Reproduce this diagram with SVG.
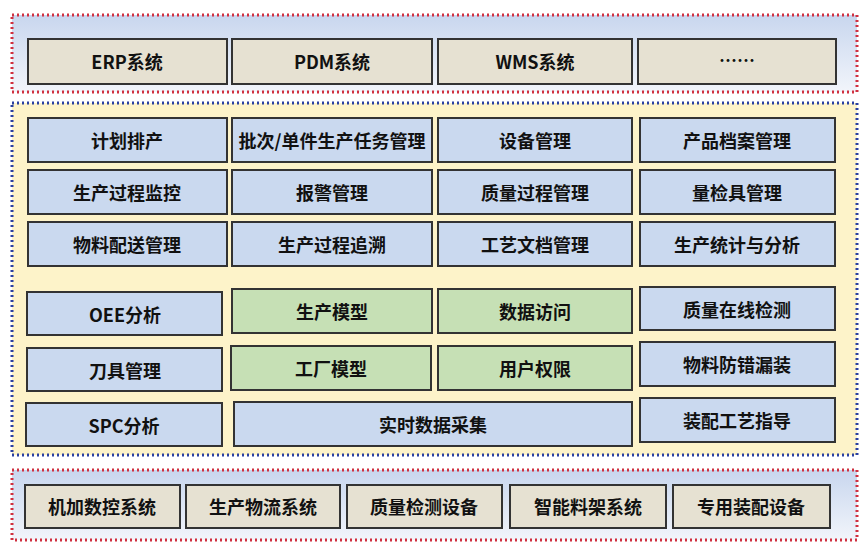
<svg xmlns="http://www.w3.org/2000/svg" width="868" height="551" viewBox="0 0 868 551">
<defs>
<linearGradient id="gt" x1="0" y1="0" x2="0" y2="1"><stop offset="0" stop-color="#c8d6ee"/><stop offset="1" stop-color="#f2f5fb"/></linearGradient>
<style>
.b rect{stroke:#333;stroke-width:2}
.blue rect{fill:#cad9ef}
.beige rect{fill:#e6e1d2}
.green rect{fill:#c6e0b5}
text{font-family:"Noto Sans CJK SC","Liberation Sans",sans-serif;font-weight:bold;font-size:18px;fill:#111;text-anchor:middle;dominant-baseline:central}
.ct{stroke-width:3;stroke-dasharray:2 3}
</style>
</defs>
<rect x="12" y="15" width="845" height="77" fill="url(#gt)" stroke="#d03040" class="ct"/>
<rect x="12" y="103" width="845" height="352" fill="#fdf3c9" stroke="#2a40a0" class="ct"/>
<rect x="12" y="470" width="845" height="70" fill="url(#gt)" stroke="#d03040" class="ct"/>
<g id="top" class="b beige">
<g id="erp"><rect x="28" y="39" width="199" height="45"/><text x="127" y="61">ERP系统</text></g>
<g id="pdm"><rect x="232" y="39" width="200" height="45"/><text x="332" y="61">PDM系统</text></g>
<g id="wms"><rect x="438" y="39" width="194" height="45"/><text x="535" y="61">WMS系统</text></g>
<g id="more"><rect x="638" y="39" width="198" height="45"/><text x="737" y="59">……</text></g>
</g>
<g id="mid" class="b blue">
<g id="n1"><rect x="28" y="118" width="199" height="44"/><text x="127" y="140">计划排产</text></g>
<g id="n2"><rect x="232" y="118" width="200" height="44"/><text x="332" y="140">批次/单件生产任务管理</text></g>
<g id="n3"><rect x="438" y="118" width="194" height="44"/><text x="535" y="140">设备管理</text></g>
<g id="n4"><rect x="640" y="118" width="195" height="44"/><text x="737" y="140">产品档案管理</text></g>
<g id="n5"><rect x="28" y="170" width="199" height="44"/><text x="127" y="192">生产过程监控</text></g>
<g id="n6"><rect x="232" y="170" width="200" height="44"/><text x="332" y="192">报警管理</text></g>
<g id="n7"><rect x="438" y="170" width="194" height="44"/><text x="535" y="192">质量过程管理</text></g>
<g id="n8"><rect x="640" y="170" width="195" height="44"/><text x="737" y="192">量检具管理</text></g>
<g id="n9"><rect x="28" y="222" width="199" height="44"/><text x="127" y="244">物料配送管理</text></g>
<g id="n10"><rect x="232" y="222" width="200" height="44"/><text x="332" y="244">生产过程追溯</text></g>
<g id="n11"><rect x="438" y="222" width="194" height="44"/><text x="535" y="244">工艺文档管理</text></g>
<g id="n12"><rect x="640" y="222" width="195" height="44"/><text x="737" y="244">生产统计与分析</text></g>
<g id="n13"><rect x="27" y="292" width="195" height="43"/><text x="125" y="314">OEE分析</text></g>
<g id="n14"><rect x="27" y="348" width="195" height="43"/><text x="125" y="370">刀具管理</text></g>
<g id="n15"><rect x="26" y="403" width="196" height="43"/><text x="124" y="425">SPC分析</text></g>
<g id="n16"><rect x="234" y="402" width="398" height="44"/><text x="433" y="424">实时数据采集</text></g>
<g id="n17"><rect x="640" y="287" width="195" height="43"/><text x="737" y="309">质量在线检测</text></g>
<g id="n18"><rect x="640" y="342" width="195" height="44"/><text x="737" y="364">物料防错漏装</text></g>
<g id="n19"><rect x="640" y="398" width="195" height="44"/><text x="737" y="420">装配工艺指导</text></g>
</g>
<g id="core" class="b green">
<g id="g1"><rect x="232" y="289" width="200" height="44"/><text x="332" y="311">生产模型</text></g>
<g id="g2"><rect x="438" y="289" width="194" height="44"/><text x="535" y="311">数据访问</text></g>
<g id="g3"><rect x="231" y="346" width="200" height="44"/><text x="331" y="368">工厂模型</text></g>
<g id="g4"><rect x="438" y="346" width="194" height="44"/><text x="535" y="368">用户权限</text></g>
</g>
<g id="bottom" class="b beige">
<g id="b1"><rect x="25" y="485" width="155" height="43"/><text x="102" y="506">机加数控系统</text></g>
<g id="b2"><rect x="186" y="485" width="154" height="43"/><text x="263" y="506">生产物流系统</text></g>
<g id="b3"><rect x="347" y="485" width="155" height="43"/><text x="424" y="506">质量检测设备</text></g>
<g id="b4"><rect x="510" y="485" width="156" height="43"/><text x="588" y="506">智能料架系统</text></g>
<g id="b5"><rect x="673" y="485" width="157" height="43"/><text x="751" y="506">专用装配设备</text></g>
</g>
<g id="connectors"/>
</svg>
